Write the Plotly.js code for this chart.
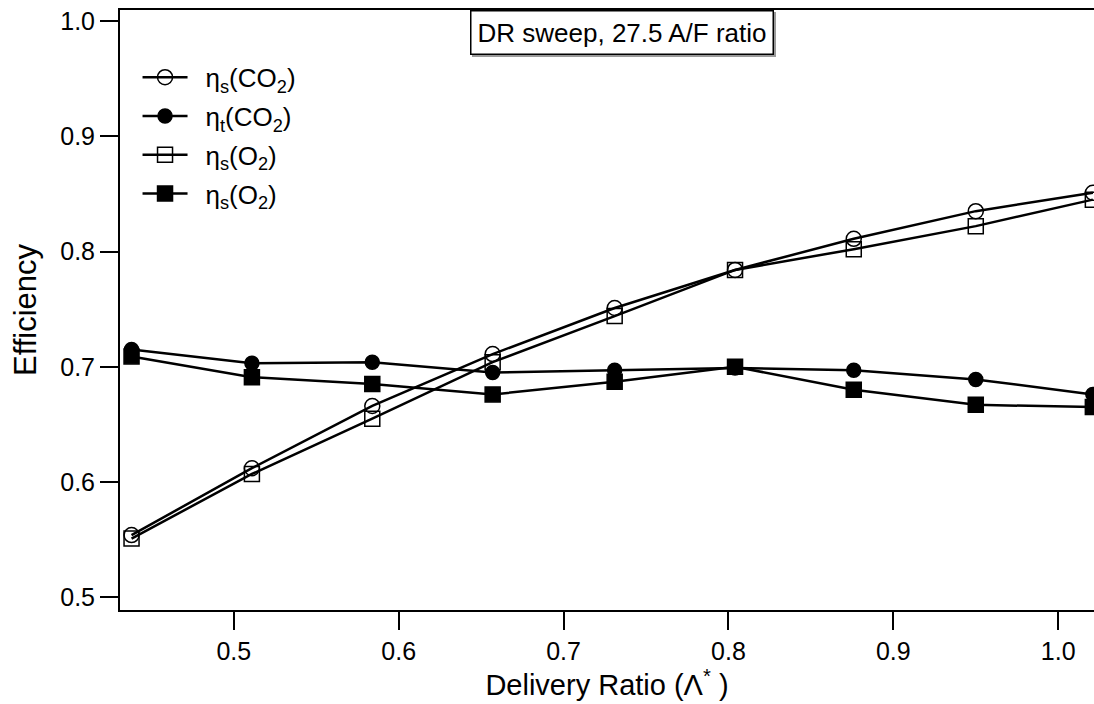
<!DOCTYPE html>
<html>
<head>
<meta charset="utf-8">
<script src="https://cdn.plot.ly/plotly-3.0.1.min.js"></script>
<style>
  html, body { margin: 0; padding: 0; background: #fff; }
  #chart { width: 1094px; height: 704px; }
</style>
</head>
<body>
<div id="chart"></div>
<script>
// Delivery ratio sweep at 27.5 A/F ratio
const deliveryRatio = [0.438, 0.511, 0.584, 0.657, 0.731, 0.804, 0.876, 0.950, 1.021];

const etaS_CO2 = [0.554, 0.612, 0.666, 0.711, 0.751, 0.784, 0.811, 0.835, 0.851];
const etaT_CO2 = [0.715, 0.703, 0.704, 0.695, 0.697, 0.699, 0.697, 0.689, 0.676];
const etaS_O2_open = [0.551, 0.607, 0.655, 0.704, 0.744, 0.784, 0.802, 0.822, 0.845];
const etaS_O2_filled = [0.709, 0.691, 0.685, 0.676, 0.687, 0.700, 0.680, 0.667, 0.665];

// en space keeps a little room between legend symbol and label
const seriesNames = [
  '\u2002η<sub>s</sub>(CO<sub>2</sub>)',
  '\u2002η<sub>t</sub>(CO<sub>2</sub>)',
  '\u2002η<sub>s</sub>(O<sub>2</sub>)',
  '\u2002η<sub>s</sub>(O<sub>2</sub>)'
];

const xTicks = [0.5, 0.6, 0.7, 0.8, 0.9, 1.0];
const xTickText = ['0.5', '0.6', '0.7', '0.8', '0.9', '1.0'];
const yTicks = [0.5, 0.6, 0.7, 0.8, 0.9, 1.0];
const yTickText = ['0.5', '0.6', '0.7', '0.8', '0.9', '1.0'];

const FONT = 'Liberation Sans, Arial, sans-serif';

function series(y, name, symbol, size, group) {
  return {
    x: deliveryRatio,
    y: y,
    name: name,
    type: 'scatter',
    mode: 'lines+markers',
    legendgroup: group,
    line: { color: '#000', width: 2.5 },
    marker: { symbol: symbol, size: size, color: '#000', line: { color: '#000', width: 1.5 } }
  };
}

const data = [
  series(etaS_CO2, seriesNames[0], 'circle-open', 15, 'a'),
  series(etaT_CO2, seriesNames[1], 'circle', 14, 'b'),
  series(etaS_O2_open, seriesNames[2], 'square-open', 15, 'c'),
  series(etaS_O2_filled, seriesNames[3], 'square', 15, 'd')
];

const axisCommon = {
  showline: true,
  linecolor: '#000',
  linewidth: 2,
  ticks: 'outside',
  ticklen: 18,
  tickwidth: 2,
  tickcolor: '#000',
  showgrid: false,
  zeroline: false,
  tickfont: { family: FONT, size: 25, color: '#000' }
};

const layout = {
  width: 1094,
  height: 704,
  margin: { l: 120, r: 0, t: 10, b: 94 },
  paper_bgcolor: '#fff',
  plot_bgcolor: '#fff',
  font: { family: FONT, color: '#000' },
  showlegend: true,
  legend: {
    x: 0.018,
    y: 0.927,
    xanchor: 'left',
    yanchor: 'top',
    bgcolor: 'rgba(0,0,0,0)',
    borderwidth: 0,
    traceorder: 'grouped',
    tracegroupgap: 2,
    itemwidth: 45,
    font: { family: FONT, size: 26, color: '#000' }
  },
  xaxis: Object.assign({}, axisCommon, {
    range: [0.431, 1.0217],
    tickvals: xTicks,
    ticktext: xTickText,
    mirror: true,
    title: { text: 'Delivery Ratio (Λ<sup>*</sup> )', font: { family: FONT, size: 29, color: '#000' }, standoff: 6 }
  }),
  yaxis: Object.assign({}, axisCommon, {
    range: [0.489, 1.0095],
    tickvals: yTicks,
    ticktext: yTickText,
    title: { text: 'Efficiency', font: { family: FONT, size: 31, color: '#000' }, standoff: 14 }
  }),
  annotations: [
    {
      // drop shadow behind the caption box
      xref: 'paper', yref: 'paper', x: 0.515, y: 1, xanchor: 'center', yanchor: 'top',
      xshift: 2, yshift: -2,
      text: 'DR sweep, 27.5 A/F ratio', showarrow: false,
      font: { family: FONT, size: 26, color: 'rgba(0,0,0,0)' },
      bgcolor: '#9a9a9a', bordercolor: '#9a9a9a', borderwidth: 1.5, borderpad: 6
    },
    {
      xref: 'paper', yref: 'paper', x: 0.515, y: 1, xanchor: 'center', yanchor: 'top',
      text: 'DR sweep, 27.5 A/F ratio', showarrow: false,
      font: { family: FONT, size: 26, color: '#000' },
      bgcolor: '#fff', bordercolor: '#000', borderwidth: 1.5, borderpad: 6
    }
  ]
};

Plotly.newPlot('chart', data, layout, { displayModeBar: false, staticPlot: true });
</script>
</body>
</html>
